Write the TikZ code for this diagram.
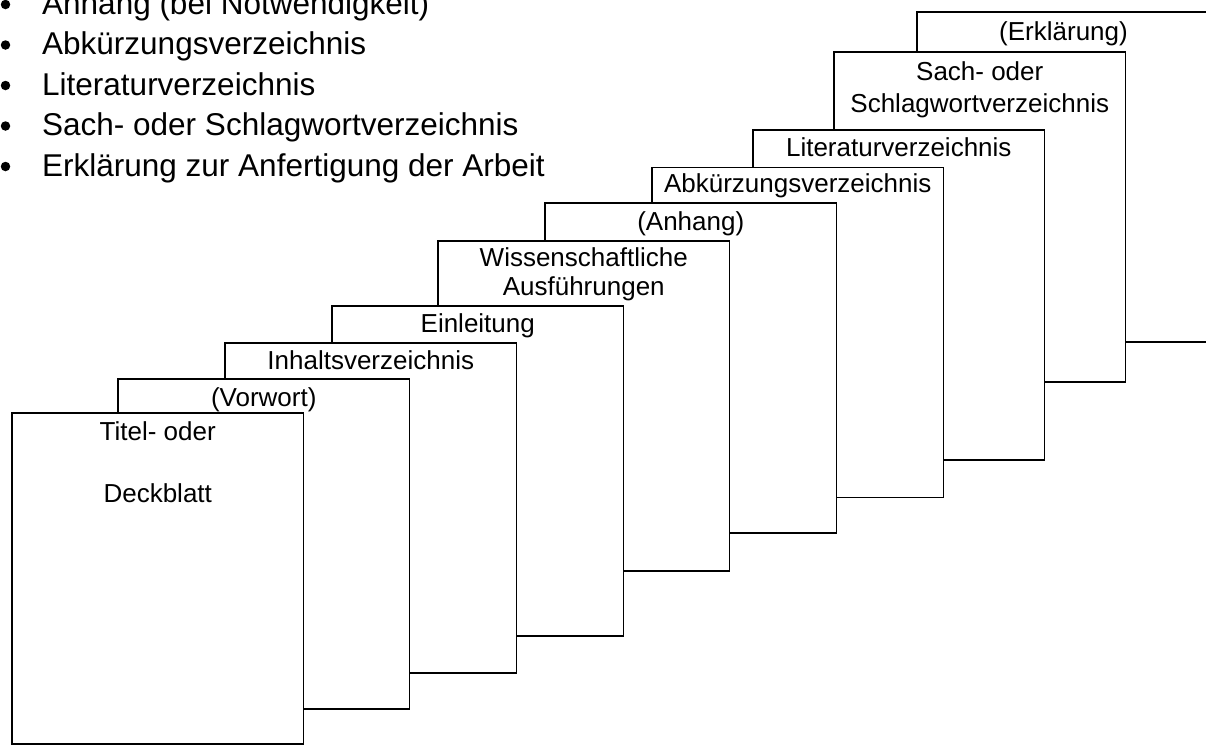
\documentclass[tikz,border=0pt]{standalone}
\usepackage{fontspec}
\setmainfont{Liberation Sans}
\begin{document}
\begin{tikzpicture}[x=1pt,y=-1pt,
  page/.style={draw=black, fill=white, line width=1.4pt, anchor=north west,
    minimum width=291.5pt, minimum height=330pt, inner sep=0pt, outer sep=0pt},
  lbl/.style={anchor=base, inner sep=0pt, font=\fontsize{26}{30}\selectfont},
  item/.style={anchor=base west, inner sep=0pt, font=\fontsize{31.5}{38}\selectfont},
  bul/.style={circle, fill=black, inner sep=0pt, minimum size=9.5pt}]
\useasboundingbox (0,0) rectangle (1206,747);

% bullet list
\node[item] (i1) at (42,14) {Anhang (bei Notwendigkeit)};
\node[item] (i2) at (42,54.5) {Abkürzungsverzeichnis};
\node[item] (i3) at (42,95) {Literaturverzeichnis};
\node[item] (i4) at (42,135.5) {Sach- oder Schlagwortverzeichnis};
\node[item] (i5) at (42,176) {Erklärung zur Anfertigung der Arbeit};
\node[bul] (b1) at (5.5,4.5) {};
\node[bul] (b2) at (5.5,45) {};
\node[bul] (b3) at (5.5,85.5) {};
\node[bul] (b4) at (5.5,126) {};
\node[bul] (b5) at (5.5,166.5) {};

% pages, back to front
\node[page, minimum width=293pt] (erkl) at (917,12) {};
\node[lbl] (erklT) at ([yshift=-28pt]erkl.north) {(Erklärung)};

\node[page] (sach) at (834,52) {};
\node[lbl] (sachT1) at ([yshift=-28pt]sach.north) {Sach- oder};
\node[lbl] (sachT2) at ([yshift=-60pt]sach.north) {Schlagwortverzeichnis};

\node[page] (lit) at (753,130) {};
\node[lbl] (litT) at ([yshift=-26pt]lit.north) {Literaturverzeichnis};

\node[page] (abk) at (652,167.5) {};
\node[lbl] (abkT) at ([yshift=-25pt]abk.north) {Abkürzungsverzeichnis};

\node[page] (anh) at (545,203) {};
\node[lbl] (anhT) at ([yshift=-27pt]anh.north) {(Anhang)};

\node[page] (wiss) at (438,241) {};
\node[lbl] (wissT1) at ([yshift=-25pt]wiss.north) {Wissenschaftliche};
\node[lbl] (wissT2) at ([yshift=-54pt]wiss.north) {Ausführungen};

\node[page] (einl) at (332,306) {};
\node[lbl] (einlT) at ([yshift=-26pt]einl.north) {Einleitung};

\node[page] (inh) at (225,343) {};
\node[lbl] (inhT) at ([yshift=-26pt]inh.north) {Inhaltsverzeichnis};

\node[page] (vorw) at (118,379) {};
\node[lbl] (vorwT) at ([yshift=-27pt]vorw.north) {(Vorwort)};

\node[page, minimum height=331pt] (titel) at (12,413) {};
\node[lbl] (titelT1) at ([yshift=-27pt]titel.north) {Titel- oder};
\node[lbl] (titelT2) at ([yshift=-89pt]titel.north) {Deckblatt};
\end{tikzpicture}
\end{document}
